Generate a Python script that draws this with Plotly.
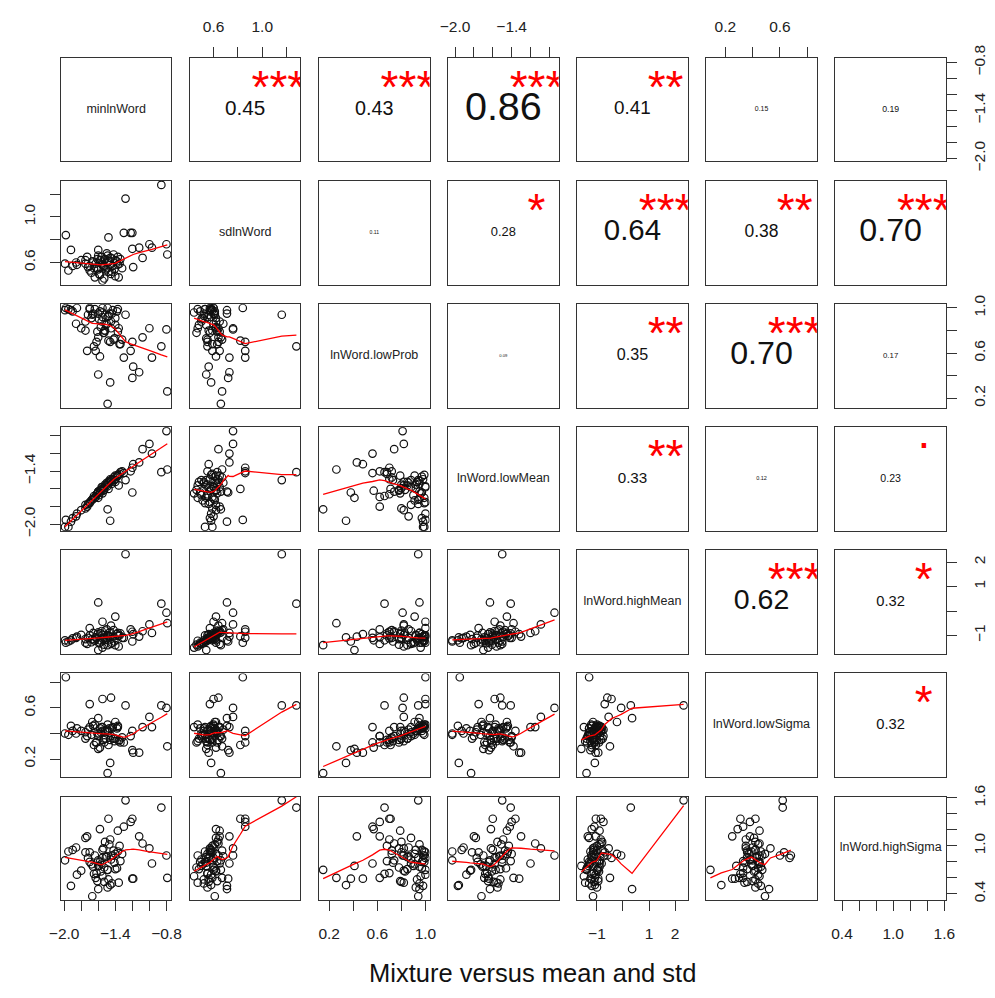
import numpy as np
import plotly.graph_objects as go

# ---------------- data ----------------
var_names = ["minlnWord", "sdlnWord", "lnWord.lowProb", "lnWord.lowMean",
             "lnWord.highMean", "lnWord.lowSigma", "lnWord.highSigma"]

minlnWord = [-1.62, -1.55, -1.48, -1.66, -1.43, -1.58, -1.52, -1.70, -1.38, -1.45,
             -1.60, -1.53, -1.75, -1.41, -1.64, -1.50, -1.35, -1.57, -1.68, -1.46,
             -1.85, -1.40, -1.54, -1.61, -1.32, -1.49, -1.72, -1.44, -1.56, -1.37,
             -1.80, -1.51, -1.63, -1.42, -1.59, -1.47, -1.90, -1.34, -1.65, -1.53,
             -1.95, -1.86, -1.36, -1.55, -1.99,
             -1.28, -0.86, -1.60, -1.49, -1.98, -0.80, -0.79, -1.00, -1.08, -0.97,
             -1.12, -1.20, -1.19, -1.22, -1.20, -1.30, -1.60, -1.46, -1.67, -1.92,
             -1.49, -1.48, -1.58, -1.37, -1.75, -1.73, -1.55, -1.40, -1.70, -1.45]
sdlnWord = [0.55, 0.58, 0.52, 0.60, 0.57, 0.49, 0.63, 0.53, 0.61, 0.50,
            0.66, 0.56, 0.59, 0.54, 0.47, 0.68, 0.59, 0.62, 0.51, 0.64,
            0.58, 0.48, 0.57, 0.63, 0.55, 0.60, 0.56, 0.52, 0.65, 0.58,
            0.62, 0.54, 0.59, 0.67, 0.50, 0.61, 0.57, 0.63, 0.55, 0.46,
            0.53, 0.60, 0.47, 0.44, 0.59,
            1.16, 1.28, 0.71, 0.66, 0.84, 0.76, 0.67, 0.76, 0.64, 0.73,
            0.73, 0.72, 0.56, 0.86, 0.86, 0.86, 0.54, 0.58, 0.61, 0.71,
            0.55, 0.82, 0.62, 0.65, 0.62, 0.65, 0.60, 0.62, 0.57, 0.64]
lowProb = [0.70, 0.92, 0.93, 0.95, 0.98, 0.97, 0.80, 0.99, 0.97, 0.88,
           0.74, 0.80, 0.80, 0.73, 0.99, 0.86, 0.68, 0.83, 0.91, 0.70,
           1.00, 0.85, 0.78, 0.79, 0.72, 1.00, 0.94, 0.95, 0.88, 0.99,
           0.82, 0.85, 0.62, 0.72, 0.90, 0.95, 0.97, 0.68, 0.66, 0.78,
           0.99, 0.86, 0.82, 0.96, 0.98,
           0.94, 0.66, 0.95, 0.15, 1.00, 0.81, 0.26, 0.82, 0.74, 0.56,
           0.43, 0.38, 0.48, 0.62, 0.70, 0.56, 0.41, 0.34, 0.94, 0.98,
           0.92, 0.71, 0.57, 0.79, 0.88, 0.62, 1.00, 0.91, 1.00, 0.82]
lowMean = [-1.66, -1.60, -1.52, -1.71, -1.49, -1.64, -1.55, -1.76, -1.46, -1.50,
           -1.63, -1.59, -1.82, -1.50, -1.70, -1.53, -1.43, -1.61, -1.73, -1.49,
           -1.88, -1.52, -1.62, -1.65, -1.40, -1.57, -1.77, -1.54, -1.58, -1.44,
           -1.84, -1.56, -1.69, -1.47, -1.67, -1.51, -1.93, -1.41, -1.68, -1.61,
           -2.03, -1.91, -1.56, -1.65, -2.03,
           -1.50, -1.41, -1.63, -1.83, -1.95, -0.945, -1.38, -1.09, -1.15, -1.20,
           -1.30, -1.64, -1.32, -1.40, -1.36, -1.42, -1.70, -1.96, -1.72, -1.97,
           -1.55, -1.60, -1.62, -1.45, -1.78, -1.80, -1.58, -1.45, -1.75, -1.52]
highMean = [-1.12, -0.98, -1.20, -0.90, -1.05, -1.30, -0.80, -1.00, -0.95, -1.35,
            -0.88, -1.10, -1.15, -1.25, -1.22, -0.75, -1.00, -0.92, -1.28, -0.85,
            -1.05, -1.40, -1.15, -0.95, -1.10, -1.00, -1.10, -1.30, -0.82, -1.02,
            -0.98, -1.18, -1.08, -0.78, -1.32, -0.90, -1.12, -0.92, -1.20, -1.38,
            -1.25, -1.10, -1.45, -1.50, -1.20,
            2.33, 0.30, 0.35, -1.40, -1.30, -0.07, -0.50, -0.55, -0.83, -0.90,
            -1.05, -1.25, -0.95, -0.75, -0.85, -1.10, -1.60, -1.08, -1.15, -1.20,
            -1.00, -1.04, -1.20, -0.90, -1.30, -1.35, -0.44, -0.23, -0.70, -0.60]
lowSigma = [0.33, 0.42, 0.42, 0.46, 0.45, 0.44, 0.42, 0.45, 0.44, 0.38,
            0.38, 0.36, 0.36, 0.34, 0.47, 0.43, 0.35, 0.41, 0.39, 0.35,
            0.44, 0.36, 0.35, 0.40, 0.37, 0.47, 0.43, 0.44, 0.45, 0.46,
            0.42, 0.36, 0.33, 0.36, 0.40, 0.44, 0.42, 0.33, 0.31, 0.33,
            0.39, 0.40, 0.34, 0.45, 0.40,
            0.62, 0.62, 0.52, 0.09, 0.84, 0.60, 0.30, 0.53, 0.45, 0.45,
            0.25, 0.27, 0.25, 0.38, 0.42, 0.33, 0.28, 0.17, 0.49, 0.46,
            0.42, 0.31, 0.29, 0.45, 0.41, 0.38, 0.67, 0.49, 0.63, 0.68]
highSigma = [0.66, 0.95, 0.58, 0.74, 0.88, 0.80, 1.05, 0.80, 0.72, 0.83,
             0.82, 0.55, 0.92, 0.79, 0.88, 0.87, 1.00, 0.68, 0.77, 1.08,
             0.64, 0.71, 0.97, 0.56, 0.90, 0.70, 0.85, 0.53, 0.78, 0.93,
             0.69, 0.86, 0.60, 0.94, 0.75, 1.02, 0.95, 0.81, 0.65, 0.73,
             0.93, 0.98, 0.54, 0.62, 0.82,
             1.57, 1.48, 0.46, 0.70, None, 0.88, 0.60, 0.97, 1.03, 0.78,
             1.12, 0.59, 0.59, 1.30, 1.34, 1.24, 0.75, 0.51, 0.37, 0.50,
             0.48, 1.34, 1.21, 1.19, 1.10, 1.12, 0.85, 0.90, 0.92, 0.88]

columns = [minlnWord, sdlnWord, lowProb, lowMean, highMean, lowSigma, highSigma]

# upper-triangle labels, row by row (i<j)
cor_labels = ["0.45", "0.43", "0.86", "0.41", "0.15", "0.19",
              "0.11", "0.28", "0.64", "0.38", "0.70",
              "0.09", "0.35", "0.70", "0.17",
              "0.33", "0.12", "0.23",
              "0.62", "0.32",
              "0.32"]
cor_signif = ["***", "***", "***", "**", "", "",
              "", "*", "***", "**", "***",
              "", "**", "***", "",
              "**", "", ".",
              "***", "*",
              "*"]

M = "\u2212"
tick_vals = [[-2.0, -1.8, -1.6, -1.4, -1.2, -1.0, -0.8],
             [0.6, 0.8, 1.0, 1.2],
             [0.2, 0.4, 0.6, 0.8, 1.0],
             [-2.0, -1.8, -1.6, -1.4, -1.2, -1.0],
             [-1, 0, 1, 2],
             [0.2, 0.4, 0.6, 0.8],
             [0.4, 0.6, 0.8, 1.0, 1.2, 1.4, 1.6]]
tick_text = [[M + "2.0", "", "", M + "1.4", "", "", M + "0.8"],
             ["0.6", "", "1.0", ""],
             ["0.2", "", "0.6", "", "1.0"],
             [M + "2.0", "", "", M + "1.4", "", ""],
             [M + "1", "", "1", "2"],
             ["0.2", "", "0.6", ""],
             ["0.4", "", "", "1.0", "", "", "1.6"]]

title_text = "Mixture versus mean and std"


# ---------------- helpers ----------------
def lowess(x, y, f=2 / 3, iters=3):
    x = np.asarray(x, float)
    y = np.asarray(y, float)
    ok = np.isfinite(x) & np.isfinite(y)
    x, y = x[ok], y[ok]
    o = np.argsort(x, kind="mergesort")
    x, y = x[o], y[o]
    n = len(x)
    ns = max(2, min(n, int(f * n + 1e-7)))
    rw = np.ones(n)
    ys = np.empty(n)
    rng = x[-1] - x[0]
    idx = np.arange(n)
    for it in range(iters + 1):
        nleft, nright = 0, ns - 1
        for i in range(n):
            xi = x[i]
            while nright < n - 1 and xi - x[nleft] > x[nright + 1] - xi:
                nleft += 1
                nright += 1
            h = max(xi - x[nleft], x[nright] - xi)
            d = np.abs(x - xi)
            m = (d <= 0.999 * h) & (idx >= nleft)
            w = np.zeros(n)
            if h > 0:
                r = d[m]
                w[m] = np.where(r <= 0.001 * h, 1.0, (1 - (r / h) ** 3) ** 3) * rw[m]
            else:
                w[m] = rw[m]
            s = w.sum()
            if s <= 0:
                ys[i] = y[i]
                continue
            w = w / s
            if h > 0:
                a = (w * x).sum()
                b = xi - a
                c = (w * (x - a) ** 2).sum()
                if np.sqrt(c) > 0.001 * rng:
                    b = b / c
                    w = w * (b * (x - a) + 1.0)
            ys[i] = (w * y).sum()
        if it == iters:
            break
        res = y - ys
        cmad = 6 * np.median(np.abs(res))
        if cmad < 1e-7 * np.mean(np.abs(y)):
            break
        r = np.abs(res)
        rw = np.where(r <= 0.001 * cmad, 1.0,
                      np.where(r > 0.999 * cmad, 0.0, (1 - (r / cmad) ** 2) ** 2))
    return x, ys


def padded(v):
    v = [t for t in v if t is not None]
    lo, hi = min(v), max(v)
    d = 0.04 * (hi - lo)
    return [lo - d, hi + d]


# ---------------- layout geometry ----------------
W, H = 995, 998
PX0, PY0 = 50, 46      # top-left of first panel
PW, PH = 113, 106      # panel size
SX, SY = 132, 126      # panel spacing
nv = len(var_names)
ranges = [padded(c) for c in columns]

FONT = "Liberation Sans, Arial, Helvetica, sans-serif"
BOX = "#333333"

fig = go.Figure()
layout = {}
ci = 0
for i in range(nv):
    for j in range(nv):
        k = i * nv + j + 1
        xa = "x" if k == 1 else f"x{k}"
        ya = "y" if k == 1 else f"y{k}"
        xkey = "xaxis" if k == 1 else f"xaxis{k}"
        ykey = "yaxis" if k == 1 else f"yaxis{k}"
        left = PX0 + j * SX
        top = PY0 + i * SY
        xd = [left / W, (left + PW) / W]
        yd = [(H - top - PH) / H, (H - top) / H]

        xax = dict(domain=xd, range=ranges[j], anchor=ya, showgrid=False, zeroline=False,
                   showline=True, mirror=True, linecolor=BOX, linewidth=1.4,
                   fixedrange=True, showticklabels=False, ticks="")
        yax = dict(domain=yd, range=ranges[i], anchor=xa, showgrid=False, zeroline=False,
                   showline=True, mirror=True, linecolor=BOX, linewidth=1.4,
                   fixedrange=True, showticklabels=False, ticks="")
        tick_common = dict(showticklabels=True, ticks="outside", ticklen=10, tickwidth=1.2,
                           tickcolor=BOX, tickmode="array",
                           tickfont=dict(family=FONT, size=15.5, color="#222"),
                           ticklabelstandoff=9)
        if i == 0 and j % 2 == 1:
            xax.update(tick_common, side="top", tickvals=tick_vals[j], ticktext=tick_text[j])
        if i == nv - 1 and j % 2 == 0:
            xax.update(tick_common, side="bottom", tickvals=tick_vals[j], ticktext=tick_text[j])
        if j == 0 and i % 2 == 1:
            yax.update(tick_common, side="left", tickvals=tick_vals[i], ticktext=tick_text[i],
                       tickangle=-90)
        if j == nv - 1 and i % 2 == 0:
            yax.update(tick_common, side="right", tickvals=tick_vals[i], ticktext=tick_text[i],
                       tickangle=-90)
        layout[xkey] = xax
        layout[ykey] = yax

        xr, yr = ranges[j], ranges[i]
        if i > j:
            fig.add_trace(go.Scatter(
                x=columns[j], y=columns[i], xaxis=xa, yaxis=ya, mode="markers",
                marker=dict(symbol="circle-open", size=7.5, color="#111",
                            line=dict(width=1.2, color="#111")),
                hoverinfo="skip", showlegend=False))
            xs = [np.nan if v is None else v for v in columns[j]]
            ysv = [np.nan if v is None else v for v in columns[i]]
            lx, ly = lowess(xs, ysv)
            fig.add_trace(go.Scatter(
                x=lx, y=ly, xaxis=xa, yaxis=ya, mode="lines",
                line=dict(color="#ff0000", width=1.3), hoverinfo="skip", showlegend=False))
        elif i == j:
            fig.add_trace(go.Scatter(
                x=[(xr[0] + xr[1]) / 2], y=[(yr[0] + yr[1]) / 2], xaxis=xa, yaxis=ya,
                mode="text", text=[var_names[i]], textposition="middle center",
                textfont=dict(family=FONT, size=12.5, color="#222"),
                hoverinfo="skip", showlegend=False))
        else:
            lab = cor_labels[ci]
            sig = cor_signif[ci]
            ci += 1
            r = float(lab)
            fs = max(1.0, 46.0 * r)
            fig.add_trace(go.Scatter(
                x=[xr[0] + 0.5 * (xr[1] - xr[0])], y=[yr[0] + 0.5 * (yr[1] - yr[0])],
                xaxis=xa, yaxis=ya, mode="text", text=[lab], textposition="middle center",
                textfont=dict(family=FONT, size=fs, color="#111"),
                hoverinfo="skip", showlegend=False, cliponaxis=True))
            if sig:
                shift_px = 13.0 if "*" in sig else -12.0
                fy = 0.8 - shift_px / PH
                fig.add_trace(go.Scatter(
                    x=[xr[0] + 0.8 * (xr[1] - xr[0])], y=[yr[0] + fy * (yr[1] - yr[0])],
                    xaxis=xa, yaxis=ya, mode="text", text=[sig], textposition="middle center",
                    textfont=dict(family=FONT, size=46, color="#ff0000"),
                    hoverinfo="skip", showlegend=False, cliponaxis=True))

fig.update_layout(**layout)
fig.update_layout(
    width=W, height=H, margin=dict(l=0, r=0, t=0, b=0, pad=0),
    paper_bgcolor="white", plot_bgcolor="white", showlegend=False,
    annotations=[dict(text=title_text, x=532.5 / W, y=(H - 983) / H, xref="paper",
                      yref="paper", xanchor="center", yanchor="middle", showarrow=False,
                      font=dict(family=FONT, size=25.5, color="#111"))])

fig.write_html("out.html", config={"displayModeBar": False},
               post_script="document.body.style.margin='0px';")
